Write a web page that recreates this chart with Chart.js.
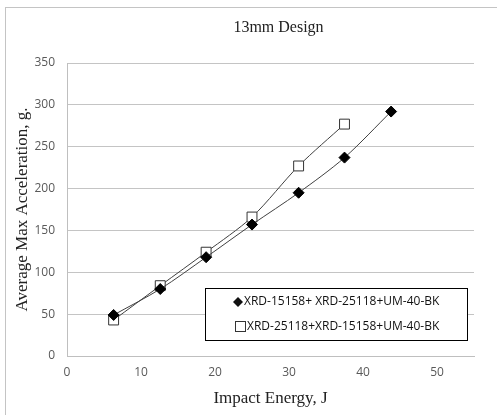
<!DOCTYPE html>
<html>
<head>
<meta charset="utf-8">
<script src="https://cdn.jsdelivr.net/npm/chart.js@4"></script>
<style>
  html, body { margin: 0; padding: 0; background: #fff; overflow: hidden; }
  #wrap { position: relative; width: 497px; height: 415px; }
  #frame { position: absolute; left: 5px; top: 7px; width: 520px; height: 430px; border: 1px solid #c4c4c4; box-sizing: border-box; }
  canvas { position: absolute; left: 0; top: 0; }
</style>
</head>
<body>
<div id="wrap">
  <div id="frame"></div>
  <canvas id="accelChart" width="497" height="415"></canvas>
</div>
<script>
// values
var energy1 = [6.3, 12.6, 18.8, 25.0, 31.3, 37.5, 43.8];
var accel1 = [49, 80, 118, 157, 195, 237, 292];
var energy2 = [6.3, 12.6, 18.8, 25.0, 31.3, 37.5];
var accel2 = [43, 84, 124, 166, 227, 277];
var seriesNames = ['XRD-15158+ XRD-25118+UM-40-BK', 'XRD-25118+XRD-15158+UM-40-BK'];
var chartTitle = '13mm Design';
var xTitle = 'Impact Energy, J';
var yTitle = 'Average Max Acceleration, g.';

var serif = "'Liberation Serif', 'DejaVu Serif', serif";
var sans = "'Open Sans', 'Liberation Sans', sans-serif";

// title sits off-centre (over the plot area) in the original
var offsetTitle = {
    id: 'offsetTitle',
    afterDraw: (chart) => {
        var ctx = chart.ctx;
        var area = chart.chartArea;
        ctx.save();
        ctx.font = '16px ' + serif;
        ctx.fillStyle = '#222';
        ctx.textAlign = 'center';
        ctx.textBaseline = 'middle';
        ctx.fillText(chartTitle, (area.left + area.right) / 2 + 8, 28);
        ctx.restore();
    }
};

// legend box drawn inside the plot area like the original
var boxLegend = {
    id: 'boxLegend',
    afterDraw: (chart) => {
        var ctx = chart.ctx;
        var area = chart.chartArea;
        var x = area.left + 138, y = area.top + 225, w = 262, h = 52;
        ctx.save();
        ctx.fillStyle = '#fff';
        ctx.fillRect(x, y, w, h);
        ctx.strokeStyle = '#000';
        ctx.lineWidth = 1;
        ctx.strokeRect(x + 0.5, y + 0.5, w, h);
        ctx.font = '12px ' + sans;
        ctx.fillStyle = '#111';
        ctx.textBaseline = 'middle';
        // diamond
        var mx = x + 33, my = y + 14;
        ctx.beginPath();
        ctx.moveTo(mx, my - 5); ctx.lineTo(mx + 5, my); ctx.lineTo(mx, my + 5); ctx.lineTo(mx - 5, my);
        ctx.closePath();
        ctx.fill();
        ctx.fillText(seriesNames[0], x + 39, my);
        // square
        var sy = y + 39;
        ctx.strokeStyle = '#333';
        ctx.strokeRect(x + 30.5, sy - 5.5, 10, 10);
        ctx.fillText(seriesNames[1], x + 42, sy);
        ctx.restore();
    }
};

new Chart(document.getElementById('accelChart'), {
    type: 'line',
    data: {
        datasets: [
            {
                label: seriesNames[0],
                data: energy1.map((e, i) => ({x: e, y: accel1[i]})),
                borderColor: '#404040',
                borderWidth: 1,
                tension: 0.3,
                pointStyle: 'rectRot',
                pointRadius: 5.5,
                pointBackgroundColor: '#000',
                pointBorderColor: '#000',
                pointBorderWidth: 1
            },
            {
                label: seriesNames[1],
                data: energy2.map((e, i) => ({x: e, y: accel2[i]})),
                borderColor: '#404040',
                borderWidth: 1,
                tension: 0.3,
                pointStyle: 'rect',
                pointRadius: 7,
                pointBackgroundColor: '#fff',
                pointBorderColor: '#333',
                pointBorderWidth: 1
            }
        ]
    },
    options: {
        responsive: false,
        animation: false,
        layout: {
            padding: {left: 5, right: 23, top: 63, bottom: 5}
        },
        scales: {
            x: {
                type: 'linear',
                min: 0,
                max: 55,
                afterFit: (s) => { s.height = 54; },
                ticks: {
                    stepSize: 10,
                    padding: 9,
                    color: '#595959',
                    font: {family: sans, size: 12},
                    callback: (v) => v % 10 === 0 ? v : ''
                },
                grid: {display: false, drawTicks: false},
                border: {color: '#bfbfbf'},
                title: {
                    display: true,
                    text: xTitle,
                    color: '#222',
                    font: {family: serif, size: 17},
                    padding: {top: 0, bottom: 1}
                }
            },
            y: {
                min: 0,
                max: 350,
                afterFit: (s) => { s.width = 62; },
                ticks: {
                    stepSize: 50,
                    padding: 12,
                    color: '#595959',
                    font: {family: sans, size: 12}
                },
                grid: {color: '#c4c4c4', drawTicks: false},
                border: {color: '#bfbfbf'},
                title: {
                    display: true,
                    text: yTitle,
                    color: '#222',
                    font: {family: serif, size: 17},
                    padding: {top: 7, bottom: 0}
                }
            }
        },
        plugins: {
            legend: {display: false},
            tooltip: {enabled: false},
            title: {display: false}
        }
    },
    plugins: [offsetTitle, boxLegend]
});
</script>
</body>
</html>
